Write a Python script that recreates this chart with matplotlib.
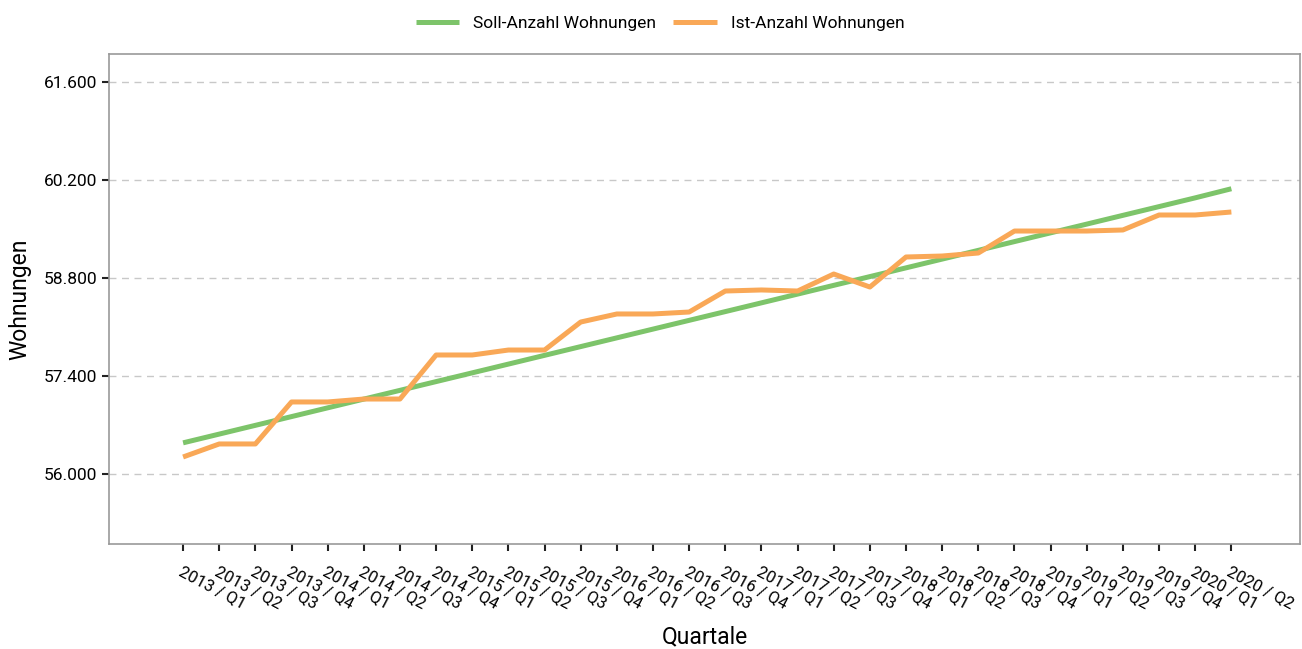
import matplotlib
matplotlib.use('Agg')
import matplotlib.pyplot as plt
import matplotlib.ticker as tkr

plt.rcParams['font.family'] = ['Roboto', 'DejaVu Sans']

quarters = ['2013 / Q1', '2013 / Q2', '2013 / Q3', '2013 / Q4',
            '2014 / Q1', '2014 / Q2', '2014 / Q3', '2014 / Q4',
            '2015 / Q1', '2015 / Q2', '2015 / Q3', '2015 / Q4',
            '2016 / Q1', '2016 / Q2', '2016 / Q3', '2016 / Q4',
            '2017 / Q1', '2017 / Q2', '2017 / Q3', '2017 / Q4',
            '2018 / Q1', '2018 / Q2', '2018 / Q3', '2018 / Q4',
            '2019 / Q1', '2019 / Q2', '2019 / Q3', '2019 / Q4',
            '2020 / Q1', '2020 / Q2']

soll = [56445, 56570, 56695, 56820, 56945, 57070, 57195, 57320,
        57445, 57570, 57695, 57820, 57945, 58070, 58195, 58320,
        58445, 58570, 58695, 58820, 58945, 59070, 59195, 59320,
        59445, 59570, 59695, 59820, 59945, 60075]

ist = [56243, 56429, 56429, 57029, 57029, 57071, 57071, 57700,
       57700, 57771, 57771, 58171, 58286, 58286, 58314, 58614,
       58629, 58614, 58857, 58671, 59100, 59114, 59157, 59471,
       59471, 59471, 59486, 59700, 59700, 59743]

y_ticks = [56000, 57400, 58800, 60200, 61600]


def german(x, _):
    return '{:,.0f}'.format(x).replace(',', '.')


def main():
    fig = plt.figure(figsize=(13.02, 6.49), dpi=100)
    ax = fig.add_axes([0.0837, 0.1618, 0.9148, 0.755])
    xs = list(range(len(quarters)))
    ax.plot(xs, soll, color='#7dc46a', lw=3.6, label='Soll-Anzahl Wohnungen', solid_capstyle='butt')
    ax.plot(xs, ist, color='#f9a857', lw=3.6, label='Ist-Anzahl Wohnungen', solid_capstyle='butt')

    ax.set_xlim(-2.05, 30.9)
    ax.set_ylim(55000, 62000)
    ax.set_yticks(y_ticks)
    ax.yaxis.set_major_formatter(tkr.FuncFormatter(german))
    ax.set_xticks(xs)
    ax.set_xticklabels(quarters, rotation=-28, ha='left', rotation_mode='anchor', fontsize=12)
    ax.tick_params(axis='x', length=5, width=1.5, color='#222222', pad=9)
    ax.tick_params(axis='y', length=5, width=1.5, color='#222222', labelsize=12.5)
    ax.grid(True, axis='y', linestyle=(0, (5, 4)), color='#c8c8c8', lw=1)
    for s in ax.spines.values():
        s.set_color('#999999')
        s.set_linewidth(1.2)

    ax.set_xlabel('Quartale', fontsize=16.5, labelpad=10)
    ax.set_ylabel('Wohnungen', fontsize=16.5, labelpad=9)

    fig.legend(loc='upper center', bbox_to_anchor=(0.507, 1.0), ncol=2, frameon=False,
               fontsize=12.5, handlelength=2.5, columnspacing=1.0)
    fig.savefig('out.png', dpi=100)


if __name__ == '__main__':
    main()
